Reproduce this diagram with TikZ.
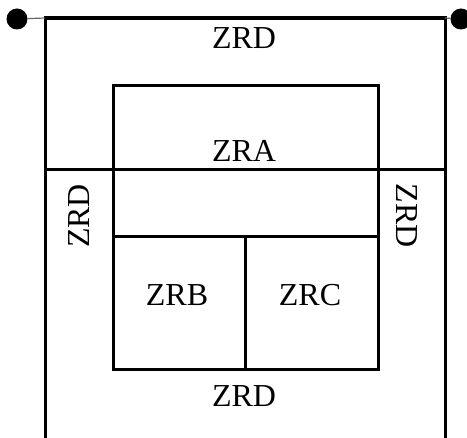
\documentclass[tikz,border=0pt]{standalone}
\usepackage{fontspec}
\setmainfont{Liberation Serif}
\begin{document}
\begin{tikzpicture}[x=1pt,y=-1pt,
  lbl/.style={font=\fontsize{32}{38}\selectfont, inner sep=0pt},
  wall/.style={line width=3pt, line cap=rect},
  dotnode/.style={circle, fill=black, inner sep=0pt, minimum size=21pt},
  thinlink/.style={line width=1.2pt, draw=black!60}]
\useasboundingbox (0,0) rectangle (467,438);
% outer frame
\coordinate (otl) at (45,18);
\coordinate (otr) at (445,18);
\coordinate (obl) at (45,440);
\coordinate (obr) at (445,440);
\draw[wall] (otl) -- (obl);
\draw[wall] (otr) -- (obr);
\draw[line width=3.5pt] (otl) -- (otr);
\coordinate (ml) at (45,170);
\coordinate (mr) at (445,170);
\draw[wall] (ml) -- (mr);
% inner box
\draw[wall] (113,86) rectangle (378,370);
\coordinate (il) at (113,237);
\coordinate (ir) at (378,237);
\draw[wall] (il) -- (ir);
\coordinate (dt) at (245,237);
\coordinate (db) at (245,370);
\draw[wall] (dt) -- (db);
% dots
\node[dotnode] (dl) at (17,19) {};
\node[dotnode] (dr) at (461,19) {};
\draw[thinlink] (dl) -- (otl);
\draw[thinlink] (otr) -- (dr);
% labels
\node[lbl] (zrdtop) at (244,38) {ZRD};
\node[lbl] (zra) at (244,151) {ZRA};
\node[lbl, rotate=90] (zrdleft) at (79.5,216) {ZRD};
\node[lbl, rotate=-90] (zrdright) at (407,216) {ZRD};
\node[lbl] (zrb) at (177,295) {ZRB};
\node[lbl] (zrc) at (310,295) {ZRC};
\node[lbl] (zrdbot) at (244,396) {ZRD};
\end{tikzpicture}
\end{document}
